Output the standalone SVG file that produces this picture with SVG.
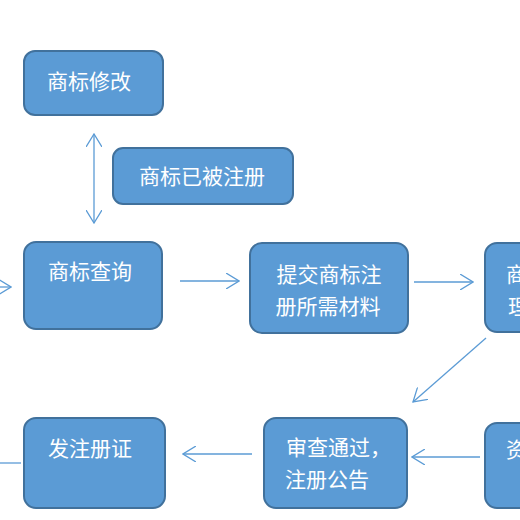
<svg xmlns="http://www.w3.org/2000/svg" width="520" height="520" viewBox="0 0 520 520">
<style>
.box{fill:#5B9BD5;stroke:#41719C;stroke-width:2}
.t{fill:#FFFFFF;font-family:"Noto Sans CJK SC","Noto Sans",sans-serif;font-size:21px}
.c{stroke:#5B9BD5;stroke-width:1.3;fill:none}
</style>
<defs>
<marker id="ah" markerUnits="userSpaceOnUse" viewBox="0 0 14 16" refX="13" refY="8" markerWidth="14" markerHeight="16" orient="auto-start-reverse">
<path d="M0,0 L13,8 L0,16" fill="none" stroke="#5B9BD5" stroke-width="1.3"/>
</marker>
</defs>
<rect width="520" height="520" fill="#FFFFFF"/>
<g id="connectors">
<line class="c" x1="94" y1="134" x2="94" y2="223" marker-start="url(#ah)" marker-end="url(#ah)"/>
<line class="c" x1="0" y1="287" x2="11" y2="287" marker-end="url(#ah)"/>
<line class="c" x1="180" y1="281" x2="239" y2="281" marker-end="url(#ah)"/>
<line class="c" x1="414" y1="282" x2="473" y2="282" marker-end="url(#ah)"/>
<line class="c" x1="486" y1="338" x2="413" y2="402" marker-end="url(#ah)"/>
<line class="c" x1="480" y1="457" x2="412" y2="457" marker-end="url(#ah)"/>
<line class="c" x1="252" y1="454" x2="183" y2="454" marker-end="url(#ah)"/>
<line class="c" x1="0" y1="463" x2="21" y2="463"/>
</g>
<g id="n-xiugai">
<rect class="box" x="24" y="51" width="139" height="64" rx="11"/>
<text class="t" x="89" y="89" text-anchor="middle">商标修改</text>
</g>
<g id="n-yizhuce">
<rect class="box" x="113" y="148" width="180" height="56" rx="10"/>
<text class="t" x="202" y="184" text-anchor="middle" font-size="22">商标已被注册</text>
</g>
<g id="n-chaxun">
<rect class="box" x="24" y="242" width="138" height="87" rx="12"/>
<text class="t" x="90" y="279" text-anchor="middle">商标查询</text>
</g>
<g id="n-tijiao">
<rect class="box" x="250" y="243" width="158" height="90" rx="12"/>
<text class="t" x="329" y="282" text-anchor="middle">提交商标注</text>
<text class="t" x="328" y="314" text-anchor="middle">册所需材料</text>
</g>
<g id="n-shouli">
<rect class="box" x="485" y="243" width="60" height="89" rx="12"/>
<text class="t" x="506" y="282">商</text>
<text class="t" x="508" y="314">理</text>
</g>
<g id="n-zi">
<rect class="box" x="485" y="423" width="60" height="85" rx="12"/>
<text class="t" x="506" y="457">资</text>
</g>
<g id="n-shencha">
<rect class="box" x="264" y="418" width="143" height="90" rx="12"/>
<text class="t" x="286" y="455">审查通过，</text>
<text class="t" x="285" y="487">注册公告</text>
</g>
<g id="n-fazheng">
<rect class="box" x="24" y="418" width="141" height="90" rx="12"/>
<text class="t" x="90" y="456" text-anchor="middle">发注册证</text>
</g>
</svg>
